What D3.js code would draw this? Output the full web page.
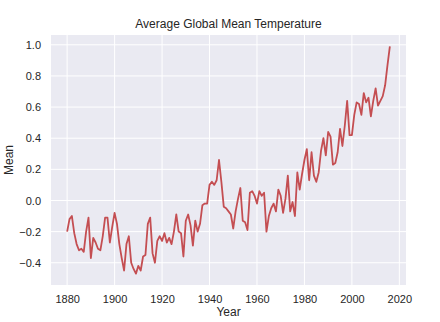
<!DOCTYPE html>
<meta charset="utf-8">
<style>
body { margin: 0; background: #fff; }
text { font-family: "Liberation Sans", Arial, sans-serif; fill: #262626; }
.line {
  fill: none;
  stroke: #c44e52;
  stroke-width: 1.8px;
  stroke-linejoin: round;
}
</style>
<body>
<script src="https://d3js.org/d3.v7.min.js"></script>
<script>
// year range and annual mean anomalies
var years = d3.range(1880, 2017);
var means = [
  -0.20, -0.12, -0.10, -0.21, -0.28, -0.32, -0.31, -0.33, -0.20, -0.11,
  -0.37, -0.24, -0.27, -0.31, -0.32, -0.23, -0.11, -0.11, -0.27, -0.17,
  -0.08, -0.15, -0.28, -0.37, -0.45, -0.28, -0.23, -0.40, -0.44, -0.47,
  -0.42, -0.45, -0.36, -0.35, -0.15, -0.11, -0.34, -0.40, -0.26, -0.23,
  -0.26, -0.21, -0.27, -0.24, -0.28, -0.20, -0.09, -0.20, -0.21, -0.36,
  -0.13, -0.09, -0.16, -0.29, -0.13, -0.20, -0.15, -0.03, -0.02, -0.02,
   0.10,  0.12,  0.10,  0.13,  0.26,  0.12, -0.04, -0.05, -0.07, -0.09,
  -0.18, -0.07,  0.01,  0.08, -0.13, -0.14, -0.19,  0.05,  0.06,  0.03,
  -0.02,  0.06,  0.03,  0.05, -0.20, -0.10, -0.05, -0.02, -0.07,  0.07,
   0.03, -0.08,  0.01,  0.16, -0.07, -0.01, -0.10,  0.18,  0.07,  0.17,
   0.26,  0.33,  0.13,  0.31,  0.16,  0.12,  0.18,  0.32,  0.40,  0.29,
   0.44,  0.41,  0.23,  0.24,  0.31,  0.46,  0.35,  0.48,  0.64,  0.42,
   0.42,  0.55,  0.63,  0.62,  0.55,  0.69,  0.63,  0.66,  0.54,  0.64,
   0.72,  0.61,  0.64,  0.67,  0.74,  0.87,  0.99
];
var xTicks = [1880, 1900, 1920, 1940, 1960, 1980, 2000, 2020];
var yTicks = [-0.4, -0.2, 0.0, 0.2, 0.4, 0.6, 0.8, 1.0];

var data = years.map(function(y, i) { return {Year: y, Mean: means[i]}; });

// dimensions and margins of the graph
var margin = {top: 35, right: 34, bottom: 37, left: 51},
    width = 440 - margin.left - margin.right,
    height = 322 - margin.top - margin.bottom;

// ranges, padded like matplotlib's 5% margins
var xPad = (d3.max(years) - d3.min(years)) * 0.05;
var yPad = (d3.max(means) - d3.min(means)) * 0.05;
var x = d3.scaleLinear()
    .domain([d3.min(years) - xPad, d3.max(years) + xPad])
    .range([0, width]);
var y = d3.scaleLinear()
    .domain([d3.min(means) - yPad, d3.max(means) + yPad])
    .range([height, 0]);

var valueline = d3.line()
    .x(function(d) { return x(d.Year); })
    .y(function(d) { return y(d.Mean); });

var svg = d3.select("body").append("svg")
    .attr("width", 440)
    .attr("height", 322)
  .append("g")
    .attr("transform", "translate(" + margin.left + "," + margin.top + ")");

// grey plot background
svg.append("rect")
    .attr("width", width)
    .attr("height", height)
    .attr("fill", "#eaeaf2");

// white grid lines
svg.selectAll(".xgrid")
    .data(xTicks)
  .enter().append("line")
    .attr("x1", function(d) { return x(d); })
    .attr("x2", function(d) { return x(d); })
    .attr("y1", 0)
    .attr("y2", height)
    .attr("stroke", "#fff")
    .attr("stroke-width", 1);
svg.selectAll(".ygrid")
    .data(yTicks)
  .enter().append("line")
    .attr("x1", 0)
    .attr("x2", width)
    .attr("y1", function(d) { return y(d); })
    .attr("y2", function(d) { return y(d); })
    .attr("stroke", "#fff")
    .attr("stroke-width", 1);

// the line
svg.append("path")
    .datum(data)
    .attr("class", "line")
    .attr("d", valueline);

// axes, no tick marks or domain lines
var minus = function(d) { return d3.format(".1f")(d).replace("-", "\u2212"); };
var xAxis = svg.append("g")
    .attr("transform", "translate(0," + height + ")")
    .call(d3.axisBottom(x).tickValues(xTicks).tickFormat(d3.format("d")).tickSize(0).tickPadding(10));
var yAxis = svg.append("g")
    .call(d3.axisLeft(y).tickValues(yTicks).tickFormat(minus).tickSize(0).tickPadding(10));
[xAxis, yAxis].forEach(function(a) {
  a.select(".domain").remove();
  a.selectAll("text").style("font-size", "11px").attr("fill", "#262626")
      .style("font-family", "'Liberation Sans', Arial, sans-serif");
});

svg.append("text")
    .attr("x", width / 2)
    .attr("y", height + 31)
    .style("text-anchor", "middle")
    .style("font-size", "12px")
    .text("Year");

svg.append("text")
    .attr("transform", "rotate(-90)")
    .attr("x", -height / 2)
    .attr("y", -38)
    .style("text-anchor", "middle")
    .style("font-size", "12px")
    .text("Mean");

svg.append("text")
    .attr("x", width / 2)
    .attr("y", -7)
    .style("text-anchor", "middle")
    .style("font-size", "12px")
    .text("Average Global Mean Temperature");
</script>
</body>
